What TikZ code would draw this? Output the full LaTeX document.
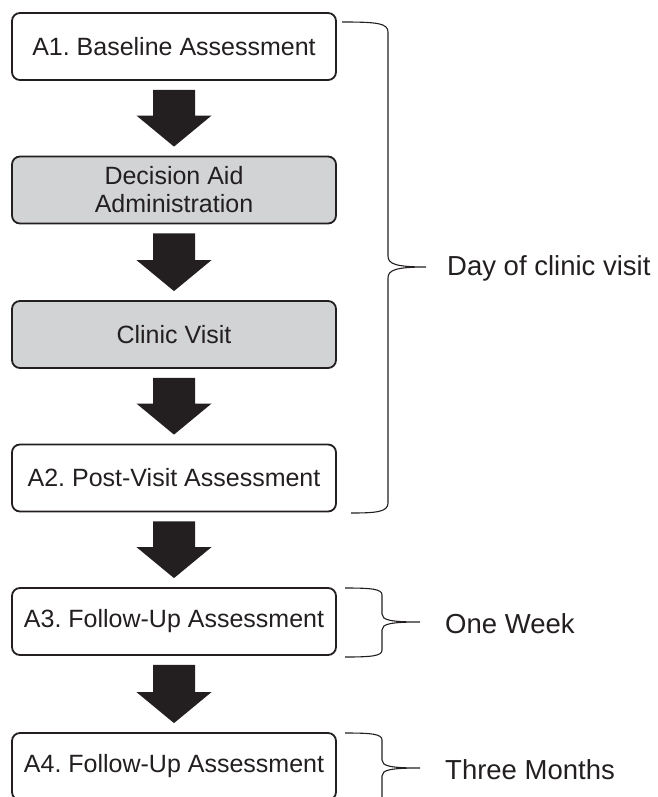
\documentclass[tikz,border=0pt]{standalone}
\usepackage{fontspec}
\setmainfont{Liberation Sans}
\usetikzlibrary{calc}
\frenchspacing
\definecolor{ink}{RGB}{35,31,32}
\definecolor{boxgray}{RGB}{209,211,212}
\tikzset{
  stagebox/.style={draw=ink, line width=1.8pt, rounded corners=8pt, fill=white,
    minimum width=324pt, minimum height=67pt, inner sep=0pt, align=center,
    text=ink, font=\fontsize{25}{28}\selectfont},
  graybox/.style={stagebox, fill=boxgray},
  bracket/.style={draw=ink, line width=1.1pt},
  periodlabel/.style={anchor=west, inner sep=0pt, text=ink, font=\fontsize{27.5}{30}\selectfont},
  blockfill/.style={fill=ink}
}
\newcommand{\blockarrow}[2]{%
  \fill[blockfill] let \p1=($(#1.south)+(0,9)$), \p2=($(#2.north)-(0,9)$) in
    (\x1-21pt,\y1) -- (\x1+21pt,\y1) -- (\x1+21pt,\y2+31pt) -- (\x1+37.5pt,\y2+31pt)
    -- (\x1,\y2) -- (\x1-37.5pt,\y2+31pt) -- (\x1-21pt,\y2+31pt) -- cycle;}
\begin{document}
\begin{tikzpicture}[x=1pt,y=-1pt]
\useasboundingbox (0,0) rectangle (657,797);
\clip (0,0) rectangle (657,797);
\node[stagebox] (a1) at (174,46.5) {A1. Baseline Assessment};
\node[graybox] (da) at (174,190) {Decision Aid\\Administration};
\node[graybox] (cv) at (174,334.5) {Clinic Visit};
\node[stagebox] (a2) at (174,478) {A2. Post-Visit Assessment};
\node[stagebox] (a3) at (174,621.5) {A3. Follow-Up Assessment};
\node[stagebox] (a4) at (174,766.5) {A4. Follow-Up Assessment};
\blockarrow{a1}{da}
\blockarrow{da}{cv}
\blockarrow{cv}{a2}
\blockarrow{a2}{a3}
\blockarrow{a3}{a4}
% big brace
\coordinate (b1top) at (342,22);
\coordinate (b1tip) at (426,267);
\coordinate (b1bot) at (351,513);
\draw[bracket] (b1top) .. controls (376,22) and (388,23) .. (388,32)
  -- (388,256) .. controls (388,264) and (396,267) .. (b1tip)
  .. controls (396,267) and (388,270) .. (388,278)
  -- (388,503) .. controls (388,512) and (376,513) .. (b1bot);
\node[periodlabel] (l1) at (447,268) {Day of clinic visit};
% one week brace
\coordinate (b2top) at (345,588);
\coordinate (b2tip) at (420,622);
\coordinate (b2bot) at (345,657);
\draw[bracket] (b2top) .. controls (372,588) and (382,589) .. (382,595)
  -- (382,614) .. controls (382,620) and (390,622) .. (b2tip)
  .. controls (390,622) and (382,624) .. (382,630)
  -- (382,650) .. controls (382,656) and (372,657) .. (b2bot);
\node[periodlabel] (l2) at (445,624) {One Week};
% three months brace
\coordinate (b3top) at (345,733);
\coordinate (b3tip) at (420,768);
\coordinate (b3end) at (382,810);
\draw[bracket] (b3top) .. controls (372,733) and (382,734) .. (382,740)
  -- (382,760) .. controls (382,766) and (390,768) .. (b3tip)
  .. controls (390,768) and (382,770) .. (382,776)
  -- (b3end);
\node[periodlabel] (l3) at (445,770) {Three Months};
\end{tikzpicture}
\end{document}
